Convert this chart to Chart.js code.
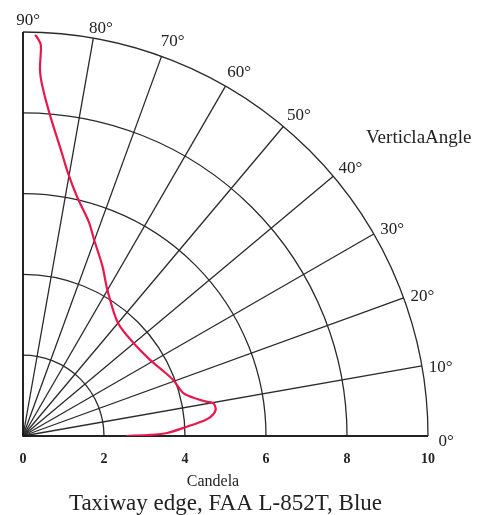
<!DOCTYPE html>
<html>
<head>
<meta charset="utf-8">
<script src="https://cdn.jsdelivr.net/npm/chart.js@4.4.1/dist/chart.umd.min.js"></script>
<style>
  html, body { margin: 0; padding: 0; background: #fff; }
  #wrap { width: 477px; height: 515px; position: relative; }
</style>
</head>
<body>
<div id="wrap"><canvas id="chart"></canvas></div>
<script>
// vertical angle (degrees) vs intensity (candela)
const angles = [0, 0.5, 1.2, 2.9, 4.5, 5.8, 7.7, 9.8, 10.5, 12, 15, 20.5, 25.5, 31, 40, 50, 60, 65, 70, 73, 77.3, 80.3, 82.2, 85.2, 86.8, 87.35, 87.4, 88, 88.3];
const candela = [2.55, 3.14, 3.56, 3.97, 4.39, 4.65, 4.80, 4.77, 4.63, 4.40, 4.10, 3.96, 3.80, 3.66, 3.57, 3.65, 4.17, 4.64, 5.15, 5.55, 6.07, 6.6, 7.07, 7.97, 8.65, 9.07, 9.69, 9.88, 9.93];

const gridRadii = [2, 4, 6, 8, 10];
const gridAngles = [0, 10, 20, 30, 40, 50, 60, 70, 80, 90];
const candelaTicks = [0, 2, 4, 6, 8, 10];

const SERIF = "'Liberation Serif', 'DejaVu Serif', serif";
const rad = d => d * Math.PI / 180;

const curve = angles.map((a, i) => ({
  x: candela[i] * Math.cos(rad(a)),
  y: candela[i] * Math.sin(rad(a))
}));

// quarter polar grid drawn on the cartesian scales
const polarGrid = {
  id: 'polarGrid',
  beforeDatasetsDraw(chart) {
    const { ctx, scales: { x, y } } = chart;
    const cx = x.getPixelForValue(0);
    const cy = y.getPixelForValue(0);
    ctx.save();
    ctx.strokeStyle = '#2a2a2a';
    ctx.lineWidth = 1.3;
    gridRadii.forEach(r => {
      const rx = x.getPixelForValue(r) - cx;
      const ry = cy - y.getPixelForValue(r);
      ctx.beginPath();
      ctx.ellipse(cx, cy, rx, ry, 0, -Math.PI / 2, 0);
      ctx.stroke();
    });
    gridAngles.forEach(a => {
      ctx.beginPath();
      ctx.moveTo(cx, cy);
      ctx.lineTo(x.getPixelForValue(10 * Math.cos(rad(a))), y.getPixelForValue(10 * Math.sin(rad(a))));
      ctx.stroke();
    });
    // axes
    ctx.strokeStyle = '#111';
    ctx.lineWidth = 1.6;
    ctx.beginPath();
    ctx.moveTo(cx, y.getPixelForValue(10));
    ctx.lineTo(cx, cy);
    ctx.lineTo(x.getPixelForValue(10), cy);
    ctx.stroke();
    ctx.restore();
  },
  afterDraw(chart) {
    const { ctx, scales: { x, y } } = chart;
    ctx.save();
    ctx.fillStyle = '#222';
    ctx.font = '17px ' + SERIF;
    ctx.textAlign = 'center';
    ctx.textBaseline = 'middle';
    gridAngles.forEach(a => {
      const t = rad(a - 0.7);
      const r = a >= 80 ? 10.35 : 10.45;
      ctx.fillText(a + '°', x.getPixelForValue(r * Math.cos(t)), y.getPixelForValue(r * Math.sin(t)) + (a >= 80 ? 3 : 0));
    });
    ctx.font = '16px ' + SERIF;
    ctx.fillText('Candela', 213, 482);
    ctx.font = '19px ' + SERIF;
    ctx.textAlign = 'left';
    ctx.fillText('VerticlaAngle', 366, 138);
    ctx.restore();
  }
};

new Chart(document.getElementById('chart'), {
  type: 'scatter',
  data: {
    datasets: [{
      label: 'Candela',
      data: curve,
      showLine: true,
      borderColor: '#e8184c',
      borderWidth: 2.2,
      pointRadius: 0,
      tension: 0.3,
      fill: false
    }]
  },
  options: {
    responsive: true,
    maintainAspectRatio: false,
    animation: false,
    layout: { padding: { left: 23, right: 49, top: 32, bottom: 0 } },
    plugins: {
      legend: { display: false },
      tooltip: { enabled: false },
      title: {
        display: true,
        position: 'bottom',
        text: 'Taxiway edge, FAA L-852T, Blue',
        color: '#222',
        font: { family: SERIF, size: 23, weight: 'normal', lineHeight: 1 },
        padding: { top: 9.2, bottom: 0 }
      }
    },
    scales: {
      x: {
        type: 'linear',
        min: 0,
        max: 10,
        afterBuildTicks: axis => { axis.ticks = candelaTicks.map(v => ({ value: v })); },
        grid: { display: false, drawTicks: false },
        border: { display: false },
        ticks: { color: '#222', padding: 15, font: { family: SERIF, size: 14, weight: 'bold' } }
      },
      y: {
        type: 'linear',
        min: 0,
        max: 10,
        display: false
      }
    }
  },
  plugins: [polarGrid]
});
</script>
</body>
</html>
